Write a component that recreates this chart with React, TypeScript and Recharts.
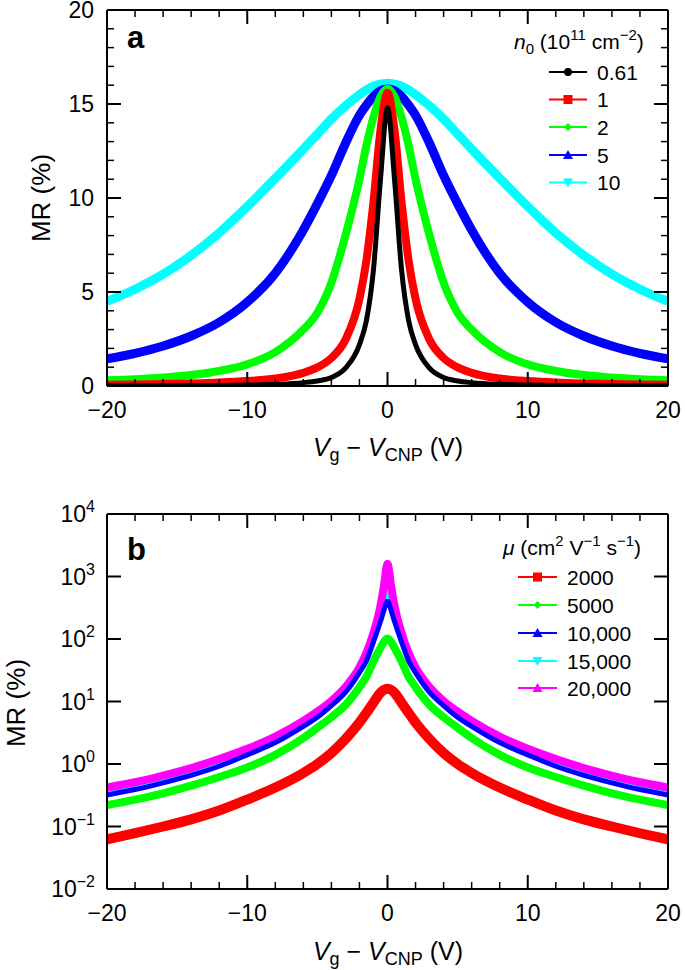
import React from 'react';
import { LineChart, Line, XAxis, YAxis, Legend } from 'recharts';

const FONT = '"Liberation Sans", Arial, Helvetica, sans-serif';

// ---------- Panel a data ----------
const vTop = [-20, -18, -16, -14, -12, -10, -8, -6, -5, -4, -3, -2, -1.5, -1, -0.5, 0, 0.5, 1, 1.5, 2, 3, 4, 5, 6, 8, 10, 12, 14, 16, 18, 20];
const mrN061 = [0.01, 0.012, 0.015, 0.02, 0.03, 0.05, 0.09, 0.18, 0.27, 0.45, 0.95, 2.2, 3.5, 6.2, 11.0, 14.8, 11.0, 6.2, 3.5, 2.2, 0.95, 0.45, 0.27, 0.18, 0.09, 0.05, 0.03, 0.02, 0.015, 0.012, 0.01];
const mrN1 = [0.066, 0.081, 0.102, 0.133, 0.18, 0.26, 0.4, 0.7, 0.99, 1.49, 2.46, 4.63, 6.7, 9.8, 13.6, 15.6, 13.6, 9.8, 6.7, 4.63, 2.46, 1.49, 0.99, 0.7, 0.4, 0.26, 0.18, 0.133, 0.102, 0.081, 0.066];
const mrN2 = [0.3, 0.36, 0.45, 0.58, 0.8, 1.15, 1.8, 3.0, 3.9, 5.5, 8.0, 11.0, 12.8, 14.3, 15.4, 15.8, 15.4, 14.3, 12.8, 11.0, 8.0, 5.5, 3.9, 3.0, 1.8, 1.15, 0.8, 0.58, 0.45, 0.36, 0.3];
const mrN5 = [1.45, 1.74, 2.13, 2.66, 3.39, 4.46, 6.0, 8.3, 9.7, 11.2, 12.9, 14.4, 14.95, 15.4, 15.7, 15.8, 15.7, 15.4, 14.95, 14.4, 12.9, 11.2, 9.7, 8.3, 6.0, 4.46, 3.39, 2.66, 2.13, 1.74, 1.45];
const mrN10 = [4.5, 5.15, 5.95, 6.95, 8.15, 9.55, 11.05, 12.6, 13.4, 14.2, 14.9, 15.5, 15.75, 15.95, 16.05, 16.1, 16.05, 15.95, 15.75, 15.5, 14.9, 14.2, 13.4, 12.6, 11.05, 9.55, 8.15, 6.95, 5.95, 5.15, 4.5];

const topNames = ['0.61', '1', '2', '5', '10'];
const topColors = ['#000000', '#ff0000', '#00ff00', '#0000ff', '#00ffff'];
const topWidths = [5, 8, 8, 9, 9];
const topMarkers = ['circle', 'square', 'diamond', 'up', 'down'];
const topSeries = [mrN061, mrN1, mrN2, mrN5, mrN10];

// ---------- Panel b data ----------
const vBot = [-20, -18, -16, -14, -12, -10, -8, -6, -5, -4, -3, -2, -1.5, -1, -0.5, -0.25, 0, 0.25, 0.5, 1, 1.5, 2, 3, 4, 5, 6, 8, 10, 12, 14, 16, 18, 20];
const mrMu2000 = [0.062, 0.078, 0.1, 0.13, 0.18, 0.27, 0.42, 0.72, 1.0, 1.5, 2.5, 4.6, 6.6, 9.6, 13.8, 15.4, 16, 15.4, 13.8, 9.6, 6.6, 4.6, 2.5, 1.5, 1.0, 0.72, 0.42, 0.27, 0.18, 0.13, 0.1, 0.078, 0.062];
const mrMu5000 = [0.22, 0.27, 0.34, 0.45, 0.62, 0.88, 1.4, 2.6, 3.8, 5.6, 8.8, 17, 25, 44, 72, 90, 102, 90, 72, 44, 25, 17, 8.8, 5.6, 3.8, 2.6, 1.4, 0.88, 0.62, 0.45, 0.34, 0.27, 0.22];
const mrMu10000 = [0.32, 0.39, 0.5, 0.66, 0.92, 1.4, 2.2, 4.0, 5.6, 8.6, 14, 29, 45, 90, 190, 290, 400, 290, 190, 90, 45, 29, 14, 8.6, 5.6, 4.0, 2.2, 1.4, 0.92, 0.66, 0.5, 0.39, 0.32];
const mrMu15000 = [0.38, 0.46, 0.59, 0.78, 1.08, 1.6, 2.55, 4.6, 6.5, 9.8, 16, 33, 54, 108, 290, 520, 900, 520, 290, 108, 54, 33, 16, 9.8, 6.5, 4.6, 2.55, 1.6, 1.08, 0.78, 0.59, 0.46, 0.38];
const mrMu20000 = [0.42, 0.51, 0.65, 0.86, 1.2, 1.75, 2.75, 4.9, 6.9, 10.2, 17, 35, 60, 125, 340, 720, 1600, 720, 340, 125, 60, 35, 17, 10.2, 6.9, 4.9, 2.75, 1.75, 1.2, 0.86, 0.65, 0.51, 0.42];

const botNames = ['2000', '5000', '10,000', '15,000', '20,000'];
const botColors = ['#ff0000', '#00ff00', '#0000ff', '#00ffff', '#ff00ff'];
const botWidths = [10, 8, 5, 8, 8];
const botMarkers = ['square', 'diamond', 'up', 'down', 'up'];
const botSeries = [mrMu2000, mrMu5000, mrMu10000, mrMu15000, mrMu20000];
// drawing order for panel b (index into series)
const botOrder = [0, 1, 3, 4, 2];

// ---------- ticks ----------
const xTicksAll = [-20, -18, -16, -14, -12, -10, -8, -6, -4, -2, 0, 2, 4, 6, 8, 10, 12, 14, 16, 18, 20];
const xMajor = [-20, -10, 0, 10, 20];
const yTopTicksAll = [0, 1, 2, 3, 4, 5, 6, 7, 8, 9, 10, 11, 12, 13, 14, 15, 16, 17, 18, 19, 20];
const yTopMajor = [0, 5, 10, 15, 20];
const yLogTicks = [0.01, 0.1, 1, 10, 100, 1000, 10000];

const toPts = (xs: number[], ys: number[]) => xs.map((x, i) => ({ v: x, mr: ys[i] }));
const fmt = (n: number) => (n < 0 ? '\u2212' + Math.abs(n) : String(n));

// ---------- tick components ----------
const XTickBottom = (props: any) => {
  const { x, y, payload } = props;
  const major = xMajor.includes(payload.value);
  return (
    <g>
      <line x1={x} x2={x} y1={y} y2={y - (major ? 14 : 7)} stroke="#000" strokeWidth={major ? 2 : 1.5} />
      {major && (
        <text x={x} y={y + 32} textAnchor="middle" fontSize={23} fontFamily={FONT} fill="#000">
          {fmt(payload.value)}
        </text>
      )}
    </g>
  );
};

const XTickTop = (props: any) => {
  const { x, y, payload } = props;
  const major = xMajor.includes(payload.value);
  return <line x1={x} x2={x} y1={y} y2={y + (major ? 14 : 7)} stroke="#000" strokeWidth={major ? 2 : 1.5} />;
};

const YTickLeftLin = (props: any) => {
  const { x, y, payload } = props;
  const major = yTopMajor.includes(payload.value);
  return (
    <g>
      <line x1={x} x2={x + (major ? 14 : 7)} y1={y} y2={y} stroke="#000" strokeWidth={major ? 2 : 1.5} />
      {major && (
        <text x={x - 13} y={y + 8} textAnchor="end" fontSize={23} fontFamily={FONT} fill="#000">
          {payload.value}
        </text>
      )}
    </g>
  );
};

const YTickRightLin = (props: any) => {
  const { x, y, payload } = props;
  const major = yTopMajor.includes(payload.value);
  return <line x1={x} x2={x - (major ? 14 : 7)} y1={y} y2={y} stroke="#000" strokeWidth={major ? 2 : 1.5} />;
};

const YTickLeftLog = (props: any) => {
  const { x, y, payload } = props;
  const e = Math.round(Math.log10(payload.value));
  return (
    <g>
      <line x1={x} x2={x + 14} y1={y} y2={y} stroke="#000" strokeWidth={2} />
      <text x={x - 12} y={y + 8} textAnchor="end" fontSize={23} fontFamily={FONT} fill="#000">
        10
        <tspan fontSize={16} dy={-10}>{fmt(e)}</tspan>
      </text>
    </g>
  );
};

const YTickRightLog = (props: any) => {
  const { x, y } = props;
  return <line x1={x} x2={x - 14} y1={y} y2={y} stroke="#000" strokeWidth={2} />;
};

// ---------- titles ----------
const XTitle = ({ posY }: any) => (
  <text x={388} y={posY} textAnchor="middle" fontSize={25} fontFamily={FONT} fill="#000">
    <tspan fontStyle="italic">V</tspan>
    <tspan fontSize={18} dy={5}>g</tspan>
    <tspan dy={-5}>{' \u2212 '}</tspan>
    <tspan fontStyle="italic">V</tspan>
    <tspan fontSize={18} dy={5}>CNP</tspan>
    <tspan dy={-5}>{' (V)'}</tspan>
  </text>
);

const YTitle = ({ posX, posY }: any) => (
  <text transform={`rotate(-90 ${posX} ${posY})`} x={posX} y={posY} textAnchor="middle" fontSize={26} fontFamily={FONT} fill="#000">
    MR (%)
  </text>
);

const PanelLetter = ({ ch, posX, posY }: any) => (
  <text x={posX} y={posY} fontSize={31} fontWeight="bold" fontFamily={FONT} fill="#000">
    {ch}
  </text>
);

// ---------- legend ----------
const Marker = ({ kind, mx, my, color }: any) => {
  if (kind === 'circle') return <circle cx={mx} cy={my} r={4} fill={color} />;
  if (kind === 'square') return <rect x={mx - 4.5} y={my - 4.5} width={9} height={9} fill={color} />;
  if (kind === 'diamond') return <polygon points={`${mx},${my - 4} ${mx + 4},${my} ${mx},${my + 4} ${mx - 4},${my}`} fill={color} />;
  if (kind === 'up') return <polygon points={`${mx},${my - 5} ${mx + 5},${my + 4} ${mx - 5},${my + 4}`} fill={color} />;
  return <polygon points={`${mx},${my + 5} ${mx + 5},${my - 4} ${mx - 5},${my - 4}`} fill={color} />;
};

const TopLegend = () => {
  const ys = [72, 99.5, 127, 155, 182.5];
  return (
    <svg width={685} height={470} style={{ position: 'absolute', left: 0, top: 0, overflow: 'visible', pointerEvents: 'none' }}>
      <text x={514} y={49} fontSize={21} fontFamily={FONT} fill="#000">
        <tspan fontStyle="italic">n</tspan>
        <tspan fontSize={15} dy={5}>0</tspan>
        <tspan dy={-5}>{' (10'}</tspan>
        <tspan fontSize={15} dy={-9}>11</tspan>
        <tspan dy={9}>{' cm'}</tspan>
        <tspan fontSize={15} dy={-9}>{'\u22122'}</tspan>
        <tspan dy={9}>)</tspan>
      </text>
      {topNames.map((n, i) => (
        <g key={n}>
          <line x1={549} x2={587} y1={ys[i]} y2={ys[i]} stroke={topColors[i]} strokeWidth={2} />
          <Marker kind={topMarkers[i]} mx={568} my={ys[i]} color={topColors[i]} />
          <text x={597} y={ys[i] + 7.5} fontSize={21} fontFamily={FONT} fill="#000">{n}</text>
        </g>
      ))}
    </svg>
  );
};

const BotLegend = () => {
  const ys = [107, 135, 163, 191, 218];
  return (
    <svg width={685} height={500} style={{ position: 'absolute', left: 0, top: 0, overflow: 'visible', pointerEvents: 'none' }}>
      <text x={503} y={85} fontSize={21} fontFamily={FONT} fill="#000">
        <tspan fontStyle="italic">{'\u03bc'}</tspan>
        <tspan>{' (cm'}</tspan>
        <tspan fontSize={15} dy={-9}>2</tspan>
        <tspan dy={9}>{' V'}</tspan>
        <tspan fontSize={15} dy={-9}>{'\u22121'}</tspan>
        <tspan dy={9}>{' s'}</tspan>
        <tspan fontSize={15} dy={-9}>{'\u22121'}</tspan>
        <tspan dy={9}>)</tspan>
      </text>
      {botNames.map((n, i) => (
        <g key={n}>
          <line x1={518} x2={557} y1={ys[i]} y2={ys[i]} stroke={botColors[i]} strokeWidth={2} />
          <Marker kind={botMarkers[i]} mx={537.5} my={ys[i]} color={botColors[i]} />
          <text x={567} y={ys[i] + 7.5} fontSize={21} fontFamily={FONT} fill="#000">{n}</text>
        </g>
      ))}
    </svg>
  );
};

const axisLineStyle = { stroke: '#000', strokeWidth: 2 };

const TopChart = () => (
  <LineChart width={685} height={470} margin={{ top: 10, right: 17, bottom: 0, left: 0 }}>
    <XAxis xAxisId="b" type="number" dataKey="v" domain={[-20, 20]} ticks={xTicksAll} interval={0} allowDataOverflow
      orientation="bottom" height={84} tickSize={0} tickMargin={0} tickLine={false} axisLine={axisLineStyle}
      tick={<XTickBottom />} label={<XTitle posY={456} />} />
    <XAxis xAxisId="t" type="number" dataKey="v" domain={[-20, 20]} ticks={xTicksAll} interval={0} allowDataOverflow
      orientation="top" mirror height={1} tickSize={0} tickMargin={0} tickLine={false} axisLine={axisLineStyle}
      tick={<XTickTop />} label={<PanelLetter ch="a" posX={127} posY={48} />} />
    <YAxis yAxisId="l" type="number" domain={[0, 20]} ticks={yTopTicksAll} interval={0} allowDataOverflow
      orientation="left" width={107} tickSize={0} tickMargin={0} tickLine={false} axisLine={axisLineStyle}
      tick={<YTickLeftLin />} label={<YTitle posX={50} posY={198} />} />
    <YAxis yAxisId="r" type="number" domain={[0, 20]} ticks={yTopTicksAll} interval={0} allowDataOverflow
      orientation="right" mirror width={1} tickSize={0} tickMargin={0} tickLine={false} axisLine={axisLineStyle}
      tick={<YTickRightLin />} />
    {[4, 3, 2, 1, 0].map((i) => (
      <Line key={topNames[i]} name={topNames[i]} data={toPts(vTop, topSeries[i])} dataKey="mr" xAxisId="b" yAxisId="l"
        type="monotone" stroke={topColors[i]} strokeWidth={topWidths[i]} dot={false} activeDot={false}
        isAnimationActive={false} />
    ))}
    <Legend layout="vertical" align="center" verticalAlign="middle" content={<TopLegend />}
      wrapperStyle={{ left: 0, top: 0, width: 0, height: 0 }} />
  </LineChart>
);

const BotChart = () => (
  <LineChart width={685} height={500} margin={{ top: 44, right: 17, bottom: 0, left: 0 }}>
    <XAxis xAxisId="b" type="number" dataKey="v" domain={[-20, 20]} ticks={xTicksAll} interval={0} allowDataOverflow
      orientation="bottom" height={81} tickSize={0} tickMargin={0} tickLine={false} axisLine={axisLineStyle}
      tick={<XTickBottom />} label={<XTitle posY={490} />} />
    <XAxis xAxisId="t" type="number" dataKey="v" domain={[-20, 20]} ticks={xTicksAll} interval={0} allowDataOverflow
      orientation="top" mirror height={1} tickSize={0} tickMargin={0} tickLine={false} axisLine={axisLineStyle}
      tick={<XTickTop />} label={<PanelLetter ch="b" posX={127} posY={90} />} />
    <YAxis yAxisId="l" type="number" scale="log" domain={[0.01, 10000]} ticks={yLogTicks} interval={0} allowDataOverflow
      orientation="left" width={107} tickSize={0} tickMargin={0} tickLine={false} axisLine={axisLineStyle}
      tick={<YTickLeftLog />} label={<YTitle posX={25} posY={233} />} />
    <YAxis yAxisId="r" type="number" scale="log" domain={[0.01, 10000]} ticks={yLogTicks} interval={0} allowDataOverflow
      orientation="right" mirror width={1} tickSize={0} tickMargin={0} tickLine={false} axisLine={axisLineStyle}
      tick={<YTickRightLog />} />
    {botOrder.map((i) => (
      <Line key={botNames[i]} name={botNames[i]} data={toPts(vBot, botSeries[i])} dataKey="mr" xAxisId="b" yAxisId="l"
        type="monotone" stroke={botColors[i]} strokeWidth={botWidths[i]} dot={false} activeDot={false}
        isAnimationActive={false} />
    ))}
    <Legend layout="vertical" align="center" verticalAlign="middle" content={<BotLegend />}
      wrapperStyle={{ left: 0, top: 0, width: 0, height: 0 }} />
  </LineChart>
);

export default function App() {
  return (
    <div style={{ position: 'absolute', left: 0, top: 0, width: 685, height: 970, background: '#fff', fontFamily: FONT }}>
      <div style={{ position: 'absolute', left: 0, top: 0 }}>
        <TopChart />
      </div>
      <div style={{ position: 'absolute', left: 0, top: 470 }}>
        <BotChart />
      </div>
    </div>
  );
}
